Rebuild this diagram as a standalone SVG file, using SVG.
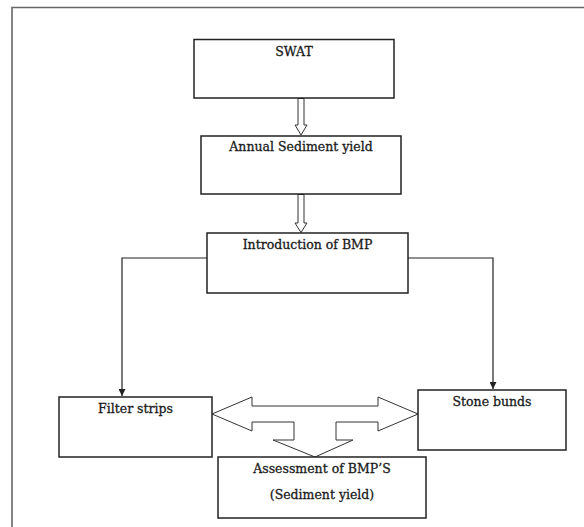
<svg xmlns="http://www.w3.org/2000/svg" width="584" height="527" viewBox="0 0 584 527">
<style>
.box{fill:#fff;stroke:#222;stroke-width:1.5}
.lbl{font-family:"DejaVu Serif","Liberation Serif",serif;font-size:12.5px;fill:#1a1a1a;stroke:#1a1a1a;stroke-width:0.3;text-anchor:middle}
.con{fill:none;stroke:#222;stroke-width:1.2}
.hollow{fill:#fff;stroke:#333;stroke-width:1}
</style>
<defs>
<marker id="ah" viewBox="0 0 10 10" refX="10" refY="5" markerWidth="7" markerHeight="7" markerUnits="userSpaceOnUse" orient="auto">
<path d="M0,0 L10,5 L0,10 Z" fill="#222"/>
</marker>
</defs>
<rect width="584" height="527" fill="#fff"/>
<path d="M12,527 V7.5 H584" fill="none" stroke="#666" stroke-width="1.6"/>
<g id="connectors">
<polygon class="hollow" points="298,98.5 304,98.5 304,125 307,125 301,135 295,125 298,125"/>
<polygon class="hollow" points="298,194.5 304,194.5 304,223 307,223 301,232.5 295,223 298,223"/>
<path class="con" d="M207,258 H122 V396" marker-end="url(#ah)"/>
<path class="con" d="M408,258 H493 V389" marker-end="url(#ah)"/>
<polygon class="hollow" points="212,414 252,397 252,406 378,406 378,397 418,414 378,431 378,422 336,422 336,440 353,440 315,457 273,440 294,440 294,422 252,422 252,431"/>
</g>
<g id="swat"><rect class="box" x="194" y="39.5" width="200" height="58.5"/><text class="lbl" x="294" y="56">SWAT</text></g>
<g id="annual"><rect class="box" x="201" y="136" width="200" height="58"/><text class="lbl" x="301" y="151">Annual Sediment yield</text></g>
<g id="intro"><rect class="box" x="207" y="233" width="201" height="60"/><text class="lbl" x="307.5" y="249">Introduction of BMP</text></g>
<g id="filter"><rect class="box" x="59" y="397" width="153" height="60"/><text class="lbl" x="135.5" y="413">Filter strips</text></g>
<g id="stone"><rect class="box" x="418" y="390" width="148" height="60"/><text class="lbl" x="492" y="406">Stone bunds</text></g>
<g id="assessment"><rect class="box" x="218" y="457" width="208" height="61"/><text class="lbl" x="322" y="473">Assessment of BMP’S</text><text class="lbl" x="322" y="499">(Sediment yield)</text></g>
</svg>
